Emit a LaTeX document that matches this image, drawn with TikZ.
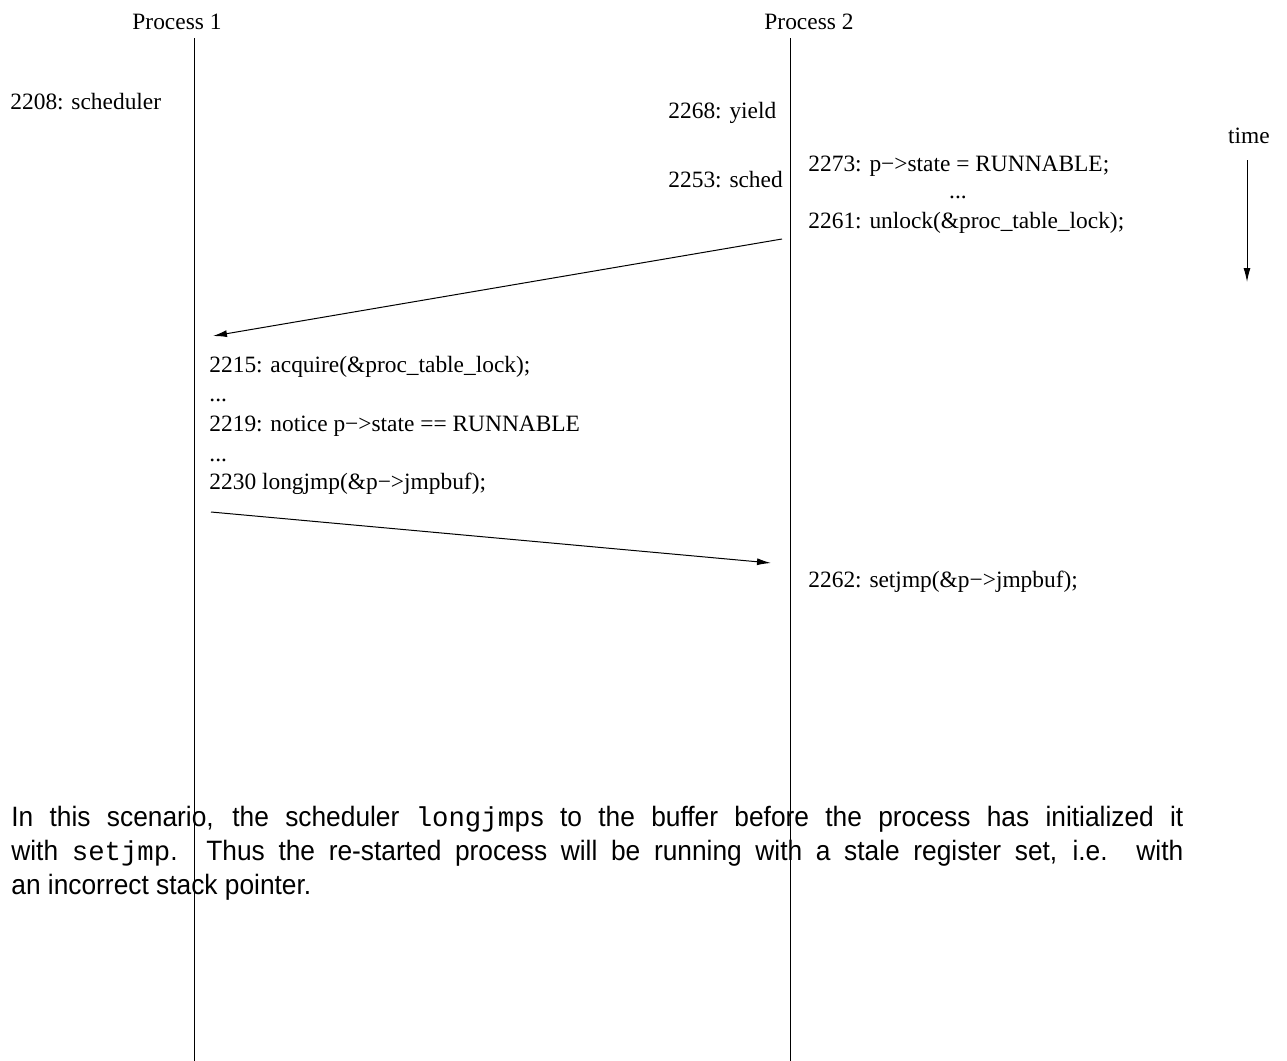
\documentclass[tikz,border=0pt]{standalone}
\usepackage{fontspec}
\setmainfont{Liberation Serif}
\setsansfont[FakeStretch=0.94]{Liberation Sans}
\setmonofont[Scale=0.976]{Liberation Mono}
\usetikzlibrary{arrows.meta}
\begin{document}
\begin{tikzpicture}[x=0.5pt,y=-0.5pt,
  lbl/.style={font=\fontsize{11.7}{14}\selectfont,inner sep=0pt,anchor=base west},
  life/.style={line width=0.5pt},
  msg/.style={line width=0.5pt,-{Latex[length=7pt,width=3.5pt]}}]
  \useasboundingbox (0,0) rectangle (1287,1061);
  \node[lbl,anchor=base] (p1) at (177,29){Process 1};
  \node[lbl,anchor=base] (p2) at (809,29){Process 2};
  \coordinate (p1top) at (194,38);
  \coordinate (p1end) at (194,1061);
  \coordinate (p2top) at (790,38);
  \coordinate (p2end) at (790,1061);
  \draw[life] (p1top) -- (p1end);
  \draw[life] (p2top) -- (p2end);
  \node[lbl] (sched1) at (10,109){2208: scheduler};
  \node[lbl] (yield) at (668,118){2268: yield};
  \node[lbl] (sched2) at (668,187){2253: sched};
  \node[lbl] (state) at (808,171){2273: p−>state = RUNNABLE;};
  \node[lbl,anchor=base] (dots0) at (958,198){...};
  \node[lbl] (unlock) at (808,228){2261: unlock(\&proc\_table\_lock);};
  \node[lbl,anchor=base] (time) at (1249,143){time};
  \coordinate (t0) at (1247,160);
  \coordinate (t1) at (1247,282);
  \draw[msg] (t0) -- (t1);
  \coordinate (u0) at (782,239);
  \coordinate (u1) at (213,336);
  \draw[msg] (u0) -- (u1);
  \node[lbl] (acq) at (209,372){2215: acquire(\&proc\_table\_lock);};
  \node[lbl] (dots1) at (209,401){...};
  \node[lbl] (notice) at (209,431){2219: notice p−>state == RUNNABLE};
  \node[lbl] (dots2) at (209,461){...};
  \node[lbl] (ljmp) at (209,489){2230 longjmp(\&p−>jmpbuf);};
  \coordinate (v0) at (211,512);
  \coordinate (v1) at (771,563);
  \draw[msg] (v0) -- (v1);
  \node[lbl] (sjmp) at (808,587){2262: setjmp(\&p−>jmpbuf);};
  \node[font=\sffamily\fontsize{14}{17}\selectfont,inner sep=0pt,anchor=north west,
    text width=586pt,align=justify] (note) at (11,806)
    {In this scenario, the scheduler \texttt{longjmp}s to the buffer before the process has initialized it\linebreak
     with \texttt{setjmp}. Thus the re-started process will be running with a stale register set, i.e. with\linebreak
     an incorrect stack pointer.};
\end{tikzpicture}
\end{document}
